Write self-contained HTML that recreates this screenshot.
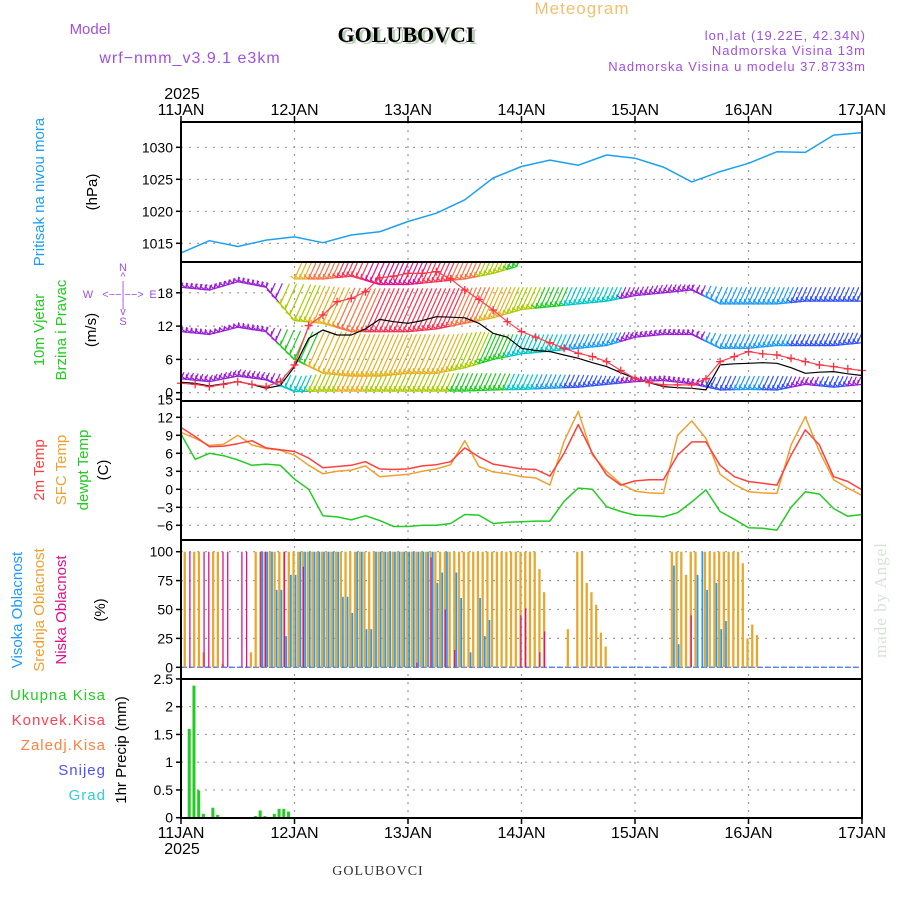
<!DOCTYPE html>
<html><head><meta charset="utf-8"><style>
html,body{margin:0;padding:0;background:#fff;}
svg{display:block;font-family:"Liberation Sans",sans-serif;}
</style></head><body>
<svg id="chart" width="900" height="900" viewBox="0 0 900 900" xmlns="http://www.w3.org/2000/svg">
<g id="static">
  <text x="582" y="14" font-size="17" fill="#f0c070" text-anchor="middle" letter-spacing="1">Meteogram</text>
  <text x="90" y="34" font-size="15" fill="#a050e0" text-anchor="middle">Model</text>
  <text x="190" y="63" font-size="16" fill="#a050e0" text-anchor="middle" letter-spacing="1">wrf−nmm_v3.9.1  e3km</text>
  <text x="409" y="44" font-size="22" font-weight="bold" fill="#b8d0b8" text-anchor="middle" font-family="Liberation Serif,serif">GOLUBOVCI</text>
  <text x="406" y="42" font-size="22" font-weight="bold" fill="#000" text-anchor="middle" font-family="Liberation Serif,serif">GOLUBOVCI</text>
  <text x="866" y="40" font-size="13" fill="#a050e0" text-anchor="end" letter-spacing="1">lon,lat (19.22E, 42.34N)</text>
  <text x="866" y="55" font-size="13" fill="#a050e0" text-anchor="end" letter-spacing="1">Nadmorska Visina 13m</text>
  <text x="866" y="71" font-size="13" fill="#a050e0" text-anchor="end" letter-spacing="1">Nadmorska Visina u modelu 37.8733m</text>
  <text x="182" y="99" font-size="16" fill="#000" text-anchor="middle">2025</text>
  <text x="182" y="854" font-size="16" fill="#000" text-anchor="middle">2025</text>
  <text x="378" y="875" font-size="14" fill="#333" text-anchor="middle" font-family="Liberation Serif,serif" letter-spacing="1">GOLUBOVCI</text>
  <text transform="rotate(-90 886 600)" x="886" y="600" font-size="17" fill="#d8e2d8" text-anchor="middle" font-family="Liberation Serif,serif" letter-spacing="1">made by Angel</text>

  <text transform="rotate(-90 44 192)" x="44" y="192" font-size="15" fill="#1ea0f0" text-anchor="middle">Pritisak na nivou mora</text>
  <text transform="rotate(-90 97 192)" x="97" y="192" font-size="15" fill="#000" text-anchor="middle">(hPa)</text>
  <text transform="rotate(-90 44 330)" x="44" y="330" font-size="15" fill="#22cc22" text-anchor="middle">10m Vjetar</text>
  <text transform="rotate(-90 66 330)" x="66" y="330" font-size="15" fill="#22cc22" text-anchor="middle">Brzina i Pravac</text>
  <text transform="rotate(-90 96 330)" x="96" y="330" font-size="15" fill="#000" text-anchor="middle">(m/s)</text>
  <g fill="#a050e0" font-size="11" text-anchor="middle">
    <text x="123" y="271">N</text><text x="123" y="280">^</text><text x="123" y="289">|</text>
    <text x="88" y="298">W</text><text x="123" y="298">&lt;−−|−−&gt;</text><text x="153" y="298">E</text>
    <text x="123" y="307">|</text><text x="123" y="315">v</text><text x="123" y="325">S</text>
  </g>
  <text transform="rotate(-90 44 470)" x="44" y="470" font-size="15" fill="#ff4040" text-anchor="middle">2m Temp</text>
  <text transform="rotate(-90 66 470)" x="66" y="470" font-size="15" fill="#f0a030" text-anchor="middle">SFC Temp</text>
  <text transform="rotate(-90 88 470)" x="88" y="470" font-size="15" fill="#22cc22" text-anchor="middle">dewpt Temp</text>
  <text transform="rotate(-90 108 470)" x="108" y="470" font-size="15" fill="#000" text-anchor="middle">(C)</text>
  <text transform="rotate(-90 22 610)" x="22" y="610" font-size="15" fill="#1e9bff" text-anchor="middle">Visoka Oblacnost</text>
  <text transform="rotate(-90 44 610)" x="44" y="610" font-size="15" fill="#f0a030" text-anchor="middle">Srednja Oblacnost</text>
  <text transform="rotate(-90 66 610)" x="66" y="610" font-size="15" fill="#e0108a" text-anchor="middle">Niska Oblacnost</text>
  <text transform="rotate(-90 105 610)" x="105" y="610" font-size="15" fill="#000" text-anchor="middle">(%)</text>
  <text transform="rotate(-90 126 750)" x="126" y="750" font-size="15" fill="#000" text-anchor="middle">1hr Precip (mm)</text>
  <g font-size="15" text-anchor="end" letter-spacing="1">
    <text x="106" y="700" fill="#22cc22">Ukupna Kisa</text>
    <text x="106" y="725" fill="#ff4050">Konvek.Kisa</text>
    <text x="106" y="750" fill="#ff8040">Zaledj.Kisa</text>
    <text x="106" y="775" fill="#5050ff">Snijeg</text>
    <text x="106" y="800" fill="#30d0d0">Grad</text>
  </g>
</g>
<defs><clipPath id="windClip"><rect x="181" y="262" width="681" height="139"/></clipPath></defs>
<g id="grid"></g>
<g id="marks"></g>
<g id="frames"></g>
</svg>
<script>
// ---- data ----
const dayLabels = ["11JAN","12JAN","13JAN","14JAN","15JAN","16JAN","17JAN"];
const pressHours = [0,6,12,18,24,30,36,42,48,54,60,66,72,78,84,90,96,102,108,114,120,126,132,138,144];
const pressure = [1013.5,1015.4,1014.5,1015.5,1016.0,1015.1,1016.3,1016.8,1018.4,1019.7,1021.8,1025.2,1027.0,1028.0,1027.2,1028.8,1028.3,1026.9,1024.6,1026.2,1027.5,1029.3,1029.2,1031.9,1032.3];
const pressTicks = [1015,1020,1025,1030];
const h3 = [0,3,6,9,12,15,18,21,24,27,30,33,36,39,42,45,48,51,54,57,60,63,66,69,72,75,78,81,84,87,90,93,96,99,102,105,108,111,114,117,120,123,126,129,132,135,138,141,144];
const windSpeed = [1.7,1.5,1.1,1.5,2.0,1.5,1.1,2.0,5.0,12.1,14,16.4,17,18.2,20.7,21,21.5,21.5,21.8,20.5,18.5,16.8,14.9,12.8,11,10,9.0,8,7.1,6.5,5.6,4,2.6,1.8,1.4,1.4,1.4,2.5,5.6,6.5,7.4,7.0,6.8,6.2,5.6,5.0,4.7,4.3,4.0];
const windBlack = [1.9,1.7,1.2,1.6,2.0,1.5,0.8,1.3,4.7,9.8,11.3,10.4,10.4,11.5,13.2,12.8,12.5,13,13.7,13.6,13.5,12.5,10.7,10.0,8.0,7.6,7.4,6.8,6.2,5.4,4.7,3.6,2.6,1.8,1.1,0.9,0.8,0.5,5.0,5.2,5.3,5.4,5.3,4.5,3.5,3.7,3.8,3.4,3.1];
const windTicks = [0,6,12,18];
const barbHours = [0,6,12,18,24,30,36,42,48,54,60,66,72,78,84,90,96,102,108,114,120,126,132,138,144];
const row1Base = [2.5,2,3,2.3,0.2,0.3,0.3,0.3,0.3,0.3,0.3,0.5,0.6,0.8,1,1.5,2,2.2,1.6,0.5,0.6,0.5,1.5,1,1.5];
const row1Top  = [3.7,3.2,4.2,3.6,3,3.5,3.5,3.5,3.5,3.5,3.5,3.5,3.3,3.3,3.2,3,2.8,3,2.5,3,3,3,2.8,3,2.8];
const row1Col  = [0,0,0,0,3,5,6,5,5,5,4,4,3,2,1,1,0,0,0,1,2,1,0,1,0];
const row2Base = [11,10.5,11.8,11,6,3.5,3,3,3.5,3.5,4.5,6,7,7.5,8,8.5,10,10.5,10.5,8,8,8.5,8.5,8.5,9];
const row2Top  = [11.8,11.2,12.5,11.8,11,11,10.5,10.5,10.5,10.5,11,10.5,10.5,10.5,10.5,10.8,11,11.5,11.3,10.5,10.5,10.5,10.5,10.8,10.8];
const row2Col  = [0,0,0,0,4,6,6,6,6,6,5,4,3,3,2,2,0,0,0,2,2,2,1,1,1];
const row3Base = [19,18.5,20,19,13,12.5,11,11,11,11.5,12.5,13.5,15,15.5,16,16.5,17.5,18,18.5,16,16,16,16.5,16.5,16.5];
const row3Top  = [19.8,19.5,20.8,19.8,19.5,19,18.8,18.8,18.8,18.8,19,19,19,19,19,19,19,19.5,19.5,19,19,19,19,19,19];
const row3Col  = [0,0,0,0,5,6,7,8,8,8,7,6,5,4,3,3,0,0,0,2,2,2,1,1,1];
const row4Base = [null,null,null,null,20.5,20.5,21,19.5,19.5,20,20.5,21.5,23,null,null,null,null,null,null,null,null,null,null,null,null];
const row4Top  = [null,null,null,null,24,24,24,24,24,24,24,24,24,null,null,null,null,null,null,null,null,null,null,null,null];
const row4Col  = [0,0,0,0,6,7,8,9,9,8,7,5,4,0,0,0,0,0,0,0,0,0,0,0,0];
const temp2m = [10.3,8.8,7.1,7.2,7.6,8.1,6.9,6.6,6.3,5.2,3.6,3.8,4.0,4.6,3.4,3.3,3.4,3.9,4.1,4.6,6.9,5.4,4.2,3.8,3.4,3.3,2.2,6.0,10.8,6.0,2.4,0.7,1.4,1.6,1.6,5.7,7.9,7.9,4.0,2.1,1.3,1.0,0.7,5.7,9.9,7.4,2.1,1.3,-0.1];
const tempSfc = [9.5,8.5,7.3,7.5,9.0,7.4,6.8,6.5,5.7,4.0,2.6,3.0,3.2,3.9,2.1,2.3,2.5,3.0,3.4,4.1,8.1,3.8,2.9,2.6,2.1,1.9,0.7,8.0,13.0,5.7,3.0,0.9,-0.3,-0.6,-0.7,9.0,11.4,8.5,2.5,0.8,-0.4,-0.6,-0.7,7.4,12.1,6.3,1.6,0.2,-1.0];
const dewpt = [9.2,5.0,6.0,5.6,4.9,4.0,4.2,4.0,1.7,0.0,-4.4,-4.6,-5.1,-4.4,-5.2,-6.2,-6.2,-6.0,-6.0,-5.7,-4.2,-4.3,-5.7,-5.5,-5.4,-5.3,-5.3,-2.0,0.2,0.0,-2.9,-3.7,-4.3,-4.4,-4.6,-3.9,-2.1,-0.1,-3.7,-5.0,-6.4,-6.5,-6.8,-3.0,-0.4,-0.8,-3.2,-4.5,-4.2];
const tempTicks = [-6,-3,0,3,6,9,12,15];
const cloudMid = [
100,0,100,100,13,0,100,100,3,0,0,0,
0,0,13,100,100,100,100,100,100,100,100,100,
100,100,100,100,100,100,100,100,100,100,100,100,
100,100,100,100,100,100,100,100,100,100,100,100,
100,100,100,100,100,100,100,100,100,100,100,100,
100,100,100,100,100,100,100,100,100,100,100,100,
100,100,100,85,65,0,0,0,0,33,0,100,
100,73,65,54,30,18,0,0,0,0,0,0,
0,0,0,0,0,0,0,100,100,100,80,100,
100,0,100,100,100,100,100,100,100,100,90,25,
37,28,0,0,0,0,0,0,0,0,0,0,
0,0,0,0,0,0,0,0,0,0,0,0,0];
const cloudHigh = [
0,0,0,0,0,0,0,0,0,0,0,0,
0,0,0,0,100,100,100,67,67,27,80,80,
100,100,100,100,100,100,100,100,100,61,61,47,
100,100,33,33,100,100,100,100,100,100,100,100,
100,100,100,100,100,73,82,100,0,82,60,0,
13,0,60,27,41,0,0,0,0,0,0,0,
0,0,0,0,0,0,0,0,0,0,0,0,
0,0,0,0,0,0,0,0,0,0,0,0,
0,0,0,0,0,0,0,88,20,0,0,0,
80,100,67,0,73,33,40,0,0,0,0,0,
0,0,0,0,0,0,0,0,0,0,0,0,
0,0,0,0,0,0,0,0,0,0,0,0,0];
const cloudLow = [
0,100,0,0,100,100,0,0,100,100,0,0,
100,100,0,0,100,100,0,0,0,100,0,0,
0,87,0,0,0,0,0,0,0,0,0,0,
0,0,0,0,0,0,0,0,0,0,0,0,
0,4,0,0,95,0,0,50,0,15,0,0,
0,0,0,0,0,0,0,0,0,0,0,45,
51,0,0,13,31,0,0,0,0,0,0,0,
0,0,0,0,0,0,0,0,0,0,0,0,
0,0,0,0,0,0,0,0,0,0,0,45,
0,0,0,0,0,0,0,0,0,0,0,0,
0,0,0,0,0,0,0,0,0,0,0,0,
0,0,0,0,0,0,0,0,0,0,0,0,0];
const cloudTicks = [0,25,50,75,100];
const precipHours = [1,2,3,4,6,7,15,16,17,19,20,21,22];
const precipTotal = [1.6,2.38,0.49,0.07,0.18,0.05,0.03,0.13,0.03,0.07,0.16,0.16,0.11];
const precipTicks = ["0","0.5","1","1.5","2","2.5"];

// ---- scales ----
const X0=181, X1=862;
const X = h => X0 + h*(X1-X0)/144;
const P = p => 147.3 + (1030-p)*6.4;
const W = v => 392.7 - v*5.55;
const T = t => 489.3 - t*6;
const C = c => 667.3 - c*1.156;
const R = r => 817.7 - r*55.5;
const panels = [[122,262],[262,401],[401,540],[540,679],[679,818]];
const NS="http://www.w3.org/2000/svg";
function mk(tag, attrs, parent){const e=document.createElementNS(NS,tag);for(const k in attrs)e.setAttribute(k,attrs[k]);parent.appendChild(e);return e;}
const grid=document.getElementById('grid'), marks=document.getElementById('marks'), frames=document.getElementById('frames');

// grid verticals
for(let d=1; d<6; d++){
  const x=X(d*24);
  const g=mk('line',{x1:x,y1:122,x2:x,y2:818,stroke:'#999','stroke-width':1.2,'stroke-dasharray':'2,6'},grid);
  
  
}
function hgrid(y){const g=mk('line',{x1:X0,y1:y,x2:X1,y2:y,stroke:'#999','stroke-width':1.2,'stroke-dasharray':'2,6'},grid);
  
  }
function ylabel(y,txt){const t=mk('text',{x:173,y:y+5,'font-size':14,'text-anchor':'end',fill:'#000'},frames);t.textContent=txt;
  
  
  mk('line',{x1:X0-5,y1:y,x2:X0,y2:y,stroke:'#000','stroke-width':1.5},frames);}
pressTicks.forEach(p=>{hgrid(P(p));ylabel(P(p),String(p));});
windTicks.forEach(v=>{hgrid(W(v));ylabel(W(v),String(v));});
tempTicks.forEach(t=>{if(t<15)hgrid(T(t));ylabel(T(t),t<0?'−'+(-t):String(t));});
cloudTicks.forEach(c=>{hgrid(C(c));ylabel(C(c),String(c));});
precipTicks.forEach(r=>{hgrid(R(+r));ylabel(R(+r),r);});

// day labels
dayLabels.forEach((lab,i)=>{
  const x=X(i*24);
  const t1=mk('text',{x:x,y:115,'font-size':16,'text-anchor':'middle',fill:'#000'},frames);t1.textContent=lab;
  
  
  const t2=mk('text',{x:x,y:838,'font-size':16,'text-anchor':'middle',fill:'#000'},frames);t2.textContent=lab;
  
  
});

function poly(xs,ys,color,width,name){
  const pts=xs.map((h,i)=>X(h).toFixed(1)+','+ys[i].toFixed(1)).join(' ');
  const e=mk('polyline',{points:pts,fill:'none',stroke:color,'stroke-width':width,'stroke-linejoin':'round'},marks);
  
  
  return e;
}
// pressure
poly(pressHours, pressure.map(P), '#1ea0f0', 1.5, 'pressure-line');

// wind barbs
const palette=['#9a20d8','#3355ff','#1e9bff','#00c8c8','#22cc22','#aacc00','#e8b020','#ff7040','#ff3050','#e0108a'];
const windG=mk('g',{'clip-path':'url(#windClip)'},marks);


function interp(arr,h){const i=Math.min(Math.floor(h/6),arr.length-2);const f=(h-i*6)/6;
  if(arr[i]==null||arr[i+1]==null)return null;return arr[i]+(arr[i+1]-arr[i])*f;}
function colAt(arr,h){return palette[arr[Math.min(Math.round(h/6),arr.length-1)]];}
const rows=[[row1Base,row1Top,row1Col],[row2Base,row2Top,row2Col],[row3Base,row3Top,row3Col],[row4Base,row4Top,row4Col]];
rows.forEach(([B,Tp,Cl])=>{
  for(let h=0; h<=143; h++){
    const b=interp(B,h), t=interp(Tp,h);
    if(b==null||t==null) continue;
    const x=X(h), yb=W(b), yt=W(t);
    const col=colAt(Cl,h);
    const len=yb-yt;
    const ln=mk('line',{x1:x,y1:yb,x2:x+len*0.45,y2:yt,stroke:col,'stroke-width':1.2},windG);
    
    
    mk('polyline',{points:`${x-4},${yb-3} ${x},${yb} ${x+1},${yb-5}`,fill:'none',stroke:col,'stroke-width':1.2},windG);
    const b2=interp(B,h+1);
    if(b2!=null) mk('line',{x1:x,y1:yb,x2:X(h+1),y2:W(b2),stroke:col,'stroke-width':1.3},windG);
  }
});
poly(h3, windBlack.map(W), '#000', 1.2, 'wind-black-line');
poly(h3, windSpeed.map(W), '#ff4050', 1.2, 'wind-speed-line');
h3.forEach((h,i)=>{
  const x=X(h), y=W(windSpeed[i]);
  const m=mk('path',{d:`M${x-4},${y}H${x+4}M${x},${y-4}V${y+4}`,stroke:'#ff3040','stroke-width':1.3},marks);
  
  
});

// temperature
poly(h3, dewpt.map(T), '#22cc22', 1.5, 'dewpoint-line');
poly(h3, tempSfc.map(T), '#eea030', 1.5, 'sfc-temp-line');
poly(h3, temp2m.map(T), '#ff4040', 1.5, '2m-temp-line');

// clouds
mk('line',{x1:X0,y1:C(0),x2:X1,y2:C(0),stroke:'#1e9bff','stroke-width':1.5,'stroke-dasharray':'4,4'},marks);
mk('line',{x1:X0+4,y1:C(0),x2:X1,y2:C(0),stroke:'#e0108a','stroke-width':1,'stroke-dasharray':'2,6'},marks);
for(let h=0; h<=144; h++){
  const hx=X(h);
  if(cloudMid[h]>0){const r=mk('rect',{x:hx+2.6,y:C(cloudMid[h]),width:2.3,height:C(0)-C(cloudMid[h]),fill:'#e8a830'},marks);
    
    }
  if(cloudHigh[h]>0){const r=mk('rect',{x:hx+5,y:C(cloudHigh[h]),width:1.7,height:C(0)-C(cloudHigh[h]),fill:'#1e9bff'},marks);
    
    }
  if(cloudLow[h]>0){const r=mk('rect',{x:hx+3.5,y:C(cloudLow[h]),width:1.3,height:C(0)-C(cloudLow[h]),fill:'#e0108a'},marks);
    
    }
}

// precipitation
precipHours.forEach((h,i)=>{
  const r=mk('rect',{x:X(h)+2,y:R(precipTotal[i]),width:3,height:R(0)-R(precipTotal[i]),fill:'#22cc22'},marks);
  
  
});

// frames
panels.forEach(([a,b])=>{
  const f=mk('rect',{x:X0,y:a,width:X1-X0,height:b-a,fill:'none',stroke:'#000','stroke-width':2},frames);
  
  
});
for(let d=0; d<=6; d++){
  mk('line',{x1:X(d*24),y1:116,x2:X(d*24),y2:122,stroke:'#000','stroke-width':1.5},frames);
  mk('line',{x1:X(d*24),y1:818,x2:X(d*24),y2:824,stroke:'#000','stroke-width':1.5},frames);
}
</script>
</body></html>
